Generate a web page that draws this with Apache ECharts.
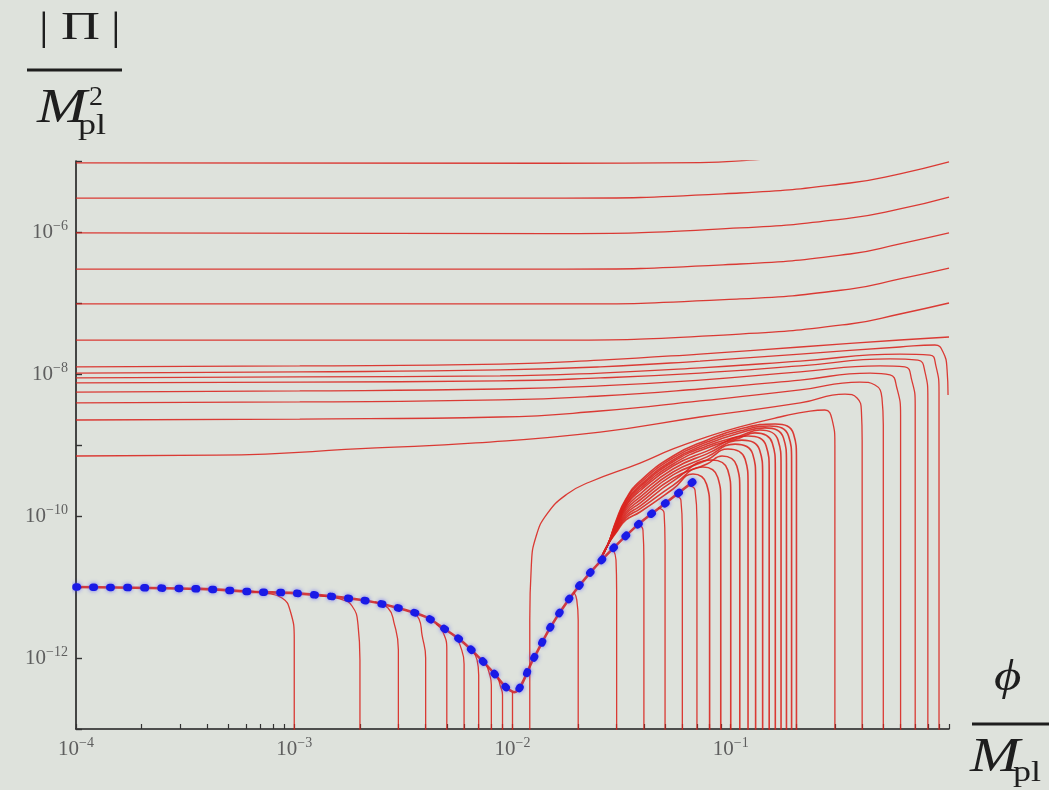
<!DOCTYPE html>
<html>
<head>
<meta charset="utf-8">
<script src="https://cdn.jsdelivr.net/npm/echarts@6.0.0/dist/echarts.min.js"></script>
<style>
html, body { margin: 0; padding: 0; background: #dee2dc; }
#container { width: 1049px; height: 790px; }
</style>
</head>
<body>
<div id="container"></div>
<script>
// tick positions on the phi axis (decades + 2..9)
var xTickValues = [
  1e-4, 2e-4, 3e-4, 4e-4, 5e-4, 6e-4, 7e-4, 8e-4, 9e-4,
  1e-3, 2e-3, 3e-3, 4e-3, 5e-3, 6e-3, 7e-3, 8e-3, 9e-3,
  1e-2, 2e-2, 3e-2, 4e-2, 5e-2, 6e-2, 7e-2, 8e-2, 9e-2,
  0.1, 0.2, 0.3, 0.4, 0.5, 0.6, 0.7, 0.8, 0.9, 1
];

// attractor (blue dotted, red underneath)
var attractor = [
  [1e-4, 1.0e-11], [3.7e-4, 9.4e-12], [6.7e-4, 8.5e-12], [1e-3, 8.2e-12], [2e-3, 6.6e-12],
  [2.9e-3, 5.2e-12], [4e-3, 3.8e-12], [4.95e-3, 2.5e-12], [5.9e-3, 1.7e-12], [7e-3, 1.03e-12],
  [8.15e-3, 6.3e-13], [9.3e-3, 3.9e-13], [1.02e-2, 3.3e-13], [1.24e-2, 9.4e-13], [1.49e-2, 2.7e-12],
  [1.83e-2, 7.0e-12], [2.26e-2, 1.57e-11], [2.89e-2, 3.5e-11], [3.84e-2, 8.0e-11], [5.1e-2, 1.57e-10],
  [6.86e-2, 3.2e-10]
];

// nearly flat lines at the top
var topLines = [
  [[1e-4, 9.4e-6], [1.49e-2, 9.3e-6], [7.23e-2, 9.5e-6], [0.122, 1.03e-5], [0.352, 1.34e-5], [1, 1.98e-5]],
  [[1e-4, 3.0e-6], [1.49e-2, 3.0e-6], [0.110, 3.54e-6], [0.352, 4.9e-6], [0.596, 6.6e-6], [1, 9.7e-6]],
  [[1e-4, 9.7e-7], [1.49e-2, 9.5e-7], [0.110, 1.14e-6], [0.352, 1.57e-6], [0.596, 2.11e-6], [1, 3.11e-6]],
  [[1e-4, 3.0e-7], [1.49e-2, 3.0e-7], [0.110, 3.54e-7], [0.352, 4.9e-7], [0.596, 6.8e-7], [1, 9.7e-7]],
  [[1e-4, 9.7e-8], [1.49e-2, 9.7e-8], [0.110, 1.14e-7], [0.352, 1.57e-7], [0.596, 2.18e-7], [1, 3.11e-7]],
  [[1e-4, 3.0e-8], [1.49e-2, 3.0e-8], [0.110, 3.65e-8], [0.352, 5.06e-8], [0.596, 7.0e-8], [1, 1.0e-7]]
];

// lines that rise and then turn down near phi = 0.3 .. 1
var turnLines = [
  [[1e-4, 1.26e-8], [1.06e-3, 1.30e-8], [8.77e-3, 1.38e-8], [2.52e-2, 1.57e-8], [7.23e-2, 1.91e-8], [0.208, 2.40e-8], [0.596, 3.01e-8], [1, 3.32e-8]],
  [[1e-4, 1.03e-8], [1.06e-3, 1.07e-8], [8.77e-3, 1.14e-8], [2.52e-2, 1.26e-8], [7.23e-2, 1.52e-8], [0.208, 1.91e-8], [0.596, 2.40e-8], [0.862, 2.56e-8], [0.939, 2.04e-8], [0.98, 1.14e-8], [0.99, 5.06e-9]],
  [[1e-4, 8.8e-9], [1.06e-3, 9.1e-9], [8.77e-3, 9.4e-9], [2.52e-2, 1.03e-8], [7.23e-2, 1.22e-8], [0.208, 1.52e-8], [0.596, 1.91e-8], [0.819, 1.85e-8], [0.871, 1.30e-8], [0.9, 5.57e-9], [0.9, 1e-14]],
  [[1e-4, 7.5e-9], [1.06e-3, 7.7e-9], [8.77e-3, 8.0e-9], [2.52e-2, 8.8e-9], [7.23e-2, 1.03e-8], [0.208, 1.30e-8], [0.537, 1.63e-8], [0.721, 1.57e-8], [0.776, 1.07e-8], [0.8, 4.59e-9], [0.8, 1e-14]],
  [[1e-4, 5.57e-9], [1.06e-3, 5.77e-9], [8.77e-3, 6.15e-9], [2.52e-2, 6.8e-9], [7.23e-2, 8.2e-9], [0.208, 1.07e-8], [0.483, 1.30e-8], [0.628, 1.26e-8], [0.675, 8.2e-9], [0.7, 3.66e-9], [0.7, 1e-14]],
  [[1e-4, 3.91e-9], [1.06e-3, 4.04e-9], [8.77e-3, 4.31e-9], [2.52e-2, 4.9e-9], [7.23e-2, 6.15e-9], [0.208, 8.2e-9], [0.435, 1.03e-8], [0.537, 9.7e-9], [0.577, 6.35e-9], [0.6, 2.65e-9], [0.6, 1e-14]],
  [[1e-4, 2.25e-9], [1.06e-3, 2.32e-9], [8.77e-3, 2.48e-9], [2.52e-2, 3.01e-9], [7.23e-2, 4.17e-9], [0.208, 5.96e-9], [0.391, 7.7e-9], [0.458, 7.0e-9], [0.493, 4.59e-9], [0.5, 1.91e-9], [0.5, 1e-14]],
  [[1e-4, 7.0e-10], [4.4e-4, 7.2e-10], [2.37e-3, 9.1e-10], [6.8e-3, 1.07e-9], [2.52e-2, 1.52e-9], [7.23e-2, 2.48e-9], [0.208, 3.91e-9], [0.334, 5.2e-9], [0.379, 4.59e-9], [0.397, 2.92e-9], [0.4, 1.17e-9], [0.4, 1e-14]],
  [[1.2e-2, 1e-14], [1.2e-2, 3.4e-12], [1.22e-2, 2.04e-11], [1.28e-2, 5.06e-11], [1.44e-2, 1.07e-10], [1.78e-2, 2.04e-10], [2.26e-2, 3.01e-10], [3.84e-2, 5.57e-10], [5.44e-2, 8.8e-10], [7.78e-2, 1.30e-9], [0.110, 1.80e-9], [0.168, 2.48e-9], [0.231, 3.01e-9], [0.270, 3.11e-9], [0.291, 2.32e-9], [0.3, 1.0e-9], [0.3, 1e-14]]
];

// fan of curves leaving the attractor, falling at phi = 0.08 .. 0.2
var fanLines = [
  [[2.52e-2, 2.4e-11], [2.74e-2, 4.0e-11], [2.98e-2, 5.8e-11], [3.31e-2, 8.8e-11], [3.84e-2, 1.14e-10], [5.44e-2, 2.4e-10], [6.71e-2, 3.9e-10], [7.75e-2, 2.8e-10], [0.08, 1.26e-10], [0.08, 1e-14]],
  [[2.52e-2, 2.4e-11], [2.74e-2, 4.0e-11], [2.98e-2, 6.0e-11], [3.31e-2, 9.4e-11], [3.84e-2, 1.26e-10], [5.44e-2, 2.7e-10], [7.46e-2, 4.9e-10], [8.72e-2, 3.5e-10], [0.09, 1.57e-10], [0.09, 1e-14]],
  [[2.52e-2, 2.4e-11], [2.74e-2, 4.0e-11], [2.98e-2, 6.15e-11], [3.31e-2, 1.0e-10], [3.84e-2, 1.38e-10], [5.44e-2, 3.1e-10], [8.21e-2, 6.15e-10], [9.69e-2, 4.45e-10], [0.1, 1.98e-10], [0.1, 1e-14]],
  [[2.52e-2, 2.4e-11], [2.74e-2, 4.0e-11], [2.98e-2, 6.35e-11], [3.31e-2, 1.07e-10], [3.84e-2, 1.52e-10], [5.44e-2, 3.4e-10], [7.78e-2, 5.4e-10], [9.12e-2, 7.0e-10], [0.1066, 5.06e-10], [0.11, 2.25e-10], [0.11, 1e-14]],
  [[2.52e-2, 2.4e-11], [2.74e-2, 4.0e-11], [2.98e-2, 6.6e-11], [3.31e-2, 1.14e-10], [3.84e-2, 1.68e-10], [5.44e-2, 3.8e-10], [7.78e-2, 6.15e-10], [9.71e-2, 8.8e-10], [0.1163, 6.35e-10], [0.12, 2.8e-10], [0.12, 1e-14]],
  [[2.52e-2, 2.4e-11], [2.74e-2, 4.0e-11], [2.98e-2, 6.8e-11], [3.31e-2, 1.22e-10], [3.84e-2, 1.85e-10], [5.44e-2, 4.17e-10], [7.78e-2, 6.8e-10], [0.1046, 1.03e-9], [0.126, 7.5e-10], [0.13, 3.3e-10], [0.13, 1e-14]],
  [[2.52e-2, 2.4e-11], [2.74e-2, 4.0e-11], [2.98e-2, 7.0e-11], [3.31e-2, 1.30e-10], [3.84e-2, 2.04e-10], [5.44e-2, 4.6e-10], [7.78e-2, 7.5e-10], [0.1126, 1.17e-9], [0.1356, 8.5e-10], [0.14, 3.8e-10], [0.14, 1e-14]],
  [[2.52e-2, 2.4e-11], [2.74e-2, 4.0e-11], [2.98e-2, 7.2e-11], [3.31e-2, 1.38e-10], [3.84e-2, 2.25e-10], [5.44e-2, 5.06e-10], [7.78e-2, 8.2e-10], [0.12, 1.34e-9], [0.1453, 9.7e-10], [0.15, 4.3e-10], [0.15, 1e-14]],
  [[2.52e-2, 2.4e-11], [2.74e-2, 4.0e-11], [2.98e-2, 7.5e-11], [3.31e-2, 1.43e-10], [3.84e-2, 2.4e-10], [5.44e-2, 5.4e-10], [7.78e-2, 9.1e-10], [0.110, 1.26e-9], [0.129, 1.48e-9], [0.155, 1.07e-9], [0.16, 4.7e-10], [0.16, 1e-14]],
  [[2.52e-2, 2.4e-11], [2.74e-2, 4.0e-11], [2.98e-2, 7.7e-11], [3.31e-2, 1.52e-10], [3.84e-2, 2.56e-10], [5.44e-2, 5.8e-10], [7.78e-2, 9.7e-10], [0.110, 1.34e-9], [0.136, 1.63e-9], [0.1647, 1.17e-9], [0.17, 5.2e-10], [0.17, 1e-14]],
  [[2.52e-2, 2.4e-11], [2.74e-2, 4.0e-11], [2.98e-2, 8.0e-11], [3.31e-2, 1.57e-10], [3.84e-2, 2.7e-10], [5.44e-2, 6.15e-10], [7.78e-2, 1.03e-9], [0.110, 1.48e-9], [0.1435, 1.74e-9], [0.1744, 1.26e-9], [0.18, 5.6e-10], [0.18, 1e-14]],
  [[2.52e-2, 2.4e-11], [2.74e-2, 4.0e-11], [2.98e-2, 8.2e-11], [3.31e-2, 1.68e-10], [3.84e-2, 2.9e-10], [5.44e-2, 6.6e-10], [7.78e-2, 1.10e-9], [0.110, 1.57e-9], [0.151, 1.85e-9], [0.184, 1.34e-9], [0.19, 6.0e-10], [0.19, 1e-14]],
  [[2.52e-2, 2.4e-11], [2.74e-2, 4.0e-11], [2.98e-2, 8.5e-11], [3.31e-2, 1.74e-10], [3.84e-2, 3.1e-10], [5.44e-2, 7.0e-10], [7.78e-2, 1.17e-9], [0.110, 1.68e-9], [0.160, 1.98e-9], [0.194, 1.43e-9], [0.2, 6.3e-10], [0.2, 1e-14]]
];

// short rises that meet the attractor from below (phi = 0.02 .. 0.07)
var riseLines = [
  [[1.91e-2, 8.5e-12], [1.97e-2, 6.6e-12], [2e-2, 3.4e-12], [2e-2, 1e-14]],
  [[2.89e-2, 3.4e-11], [2.98e-2, 2.4e-11], [3e-2, 9.1e-12], [3e-2, 1e-14]],
  [[3.76e-2, 7.7e-11], [3.96e-2, 6.35e-11], [4e-2, 2.4e-11], [4e-2, 1e-14]],
  [[4.64e-2, 1.3e-10], [4.95e-2, 1.1e-10], [5e-2, 3.9e-11], [5e-2, 1e-14]],
  [[5.55e-2, 1.91e-10], [5.91e-2, 1.68e-10], [6e-2, 6.35e-11], [6e-2, 1e-14]],
  [[6.44e-2, 2.65e-10], [6.86e-2, 2.32e-10], [7e-2, 8.8e-11], [7e-2, 1e-14]]
];

// curves peeling off the attractor and dropping (phi = 0.001 .. 0.01)
var dropLines = [
  [[5.64e-4, 8.8e-12], [7.35e-4, 8.2e-12], [8.79e-4, 7.0e-12], [9.56e-4, 4.74e-12], [1e-3, 1.8e-12], [1e-3, 1e-14]],
  [[1.31e-3, 7.5e-12], [1.62e-3, 6.8e-12], [1.84e-3, 5.4e-12], [1.96e-3, 2.92e-12], [2e-3, 9.4e-13], [2e-3, 1e-14]],
  [[2.34e-3, 6.15e-12], [2.69e-3, 5.06e-12], [2.86e-3, 3.21e-12], [3e-3, 1.3e-12], [3e-3, 1e-14]],
  [[3.39e-3, 4.45e-12], [3.73e-3, 3.54e-12], [3.85e-3, 2.11e-12], [4e-3, 1.0e-12], [4e-3, 1e-14]],
  [[4.46e-3, 3.01e-12], [4.80e-3, 2.32e-12], [5e-3, 1.3e-12], [5e-3, 1e-14]],
  [[5.45e-3, 2.04e-12], [5.75e-3, 1.52e-12], [6e-3, 8.2e-13], [6e-3, 1e-14]],
  [[6.52e-3, 1.3e-12], [6.88e-3, 9.4e-13], [7e-3, 5.77e-13], [7e-3, 1e-14]],
  [[7.56e-3, 8.2e-13], [7.8e-3, 6.35e-13], [8e-3, 4.17e-13], [8e-3, 1e-14]],
  [[8.58e-3, 5.4e-13], [8.77e-3, 4.17e-13], [9e-3, 3.01e-13], [9e-3, 1e-14]],
  [[1e-2, 3.3e-13], [1e-2, 1e-14]]
];

var RED = 'rgba(218, 34, 28, 0.88)';
var SERIF = '"Liberation Serif", "DejaVu Serif", serif';

function redLine(data, width, smooth) {
    return {
        type: 'line',
        data: data,
        showSymbol: false,
        smooth: smooth || 0.5,
        silent: true,
        clip: true,
        lineStyle: { color: RED, width: width || 1.3 }
    };
}

function powLabel(v) {
    var e = Math.round(Math.log10(v));
    return '{b|10}{s|\u2212' + (-e) + '}';
}

var labelRich = {
    b: { fontSize: 21, fontFamily: SERIF, color: '#5e5e5e' },
    s: { fontSize: 14, fontFamily: SERIF, color: '#5e5e5e', padding: [0, 0, 12, 0] }
};

var series = [];
[topLines, turnLines, riseLines, dropLines].forEach(function (group) {
    group.forEach(function (d) { series.push(redLine(d)); });
});
// the fan is drawn a bit heavier, it reads as a solid wedge in the picture
fanLines.forEach(function (d) { series.push(redLine(d, 1.6)); });
series.push(redLine(attractor, 2.6, 0.3));
series.push({
    type: 'line',
    data: attractor,
    showSymbol: false,
    smooth: 0.3,
    silent: true,
    z: 5,
    lineStyle: {
        color: '#1a1ae6',
        width: 7.5,
        type: [1.5, 15.5],
        cap: 'round',
        shadowBlur: 4,
        shadowColor: 'rgba(70,70,255,0.7)'
    }
});

var dom = document.getElementById('container');
var myChart = echarts.init(dom, null, { renderer: 'canvas' });
var option = {
    backgroundColor: '#dee2dc',
    animation: false,
    grid: { left: 76, right: 100, top: 161, bottom: 61, containLabel: false },
    xAxis: {
        type: 'log',
        logBase: 10,
        min: 1e-4,
        max: 1,
        axisLine: { show: true, onZero: false, lineStyle: { color: '#1e1e1e', width: 1.6 } },
        axisTick: { show: true, inside: true, length: 5, customValues: xTickValues, lineStyle: { color: '#333', width: 1.2 } },
        axisLabel: {
            margin: 7,
            formatter: function (v) { return v >= 1 ? '' : powLabel(v); },
            rich: labelRich
        },
        splitLine: { show: false }
    },
    yAxis: {
        type: 'log',
        logBase: 10,
        min: 1e-13,
        max: 1e-5,
        axisLine: { show: true, onZero: false, lineStyle: { color: '#1e1e1e', width: 1.6 } },
        axisTick: { show: true, inside: true, length: 6, lineStyle: { color: '#333', width: 1.4 } },
        axisLabel: {
            margin: 8,
            formatter: function (v) {
                var e = Math.round(Math.log10(v));
                return (e % 2 === 0) ? powLabel(v) : '';
            },
            rich: labelRich
        },
        splitLine: { show: false }
    },
    graphic: [
        { type: 'text', x: 39, y: 8, scaleX: 1.2, style: { text: '|', fontSize: 40, fontFamily: SERIF, fill: '#1e1e1e', textVerticalAlign: 'top', verticalAlign: 'top' } },
        { type: 'text', x: 61, y: 8, scaleX: 1.35, style: { text: '\u03A0', fontSize: 40, fontFamily: SERIF, fill: '#1e1e1e', textVerticalAlign: 'top', verticalAlign: 'top' } },
        { type: 'text', x: 111, y: 8, scaleX: 1.2, style: { text: '|', fontSize: 40, fontFamily: SERIF, fill: '#1e1e1e', textVerticalAlign: 'top', verticalAlign: 'top' } },
        { type: 'line', shape: { x1: 27, y1: 70, x2: 122, y2: 70 }, style: { stroke: '#1e1e1e', lineWidth: 3 } },
        { type: 'text', x: 37, y: 85, scaleX: 1.25, style: { text: 'M', fontSize: 48, fontStyle: 'italic', fontFamily: SERIF, fill: '#1e1e1e', textVerticalAlign: 'top', verticalAlign: 'top' } },
        { type: 'text', x: 89, y: 84, style: { text: '2', fontSize: 28, fontFamily: SERIF, fill: '#1e1e1e', textVerticalAlign: 'top', verticalAlign: 'top' } },
        { type: 'text', x: 78, y: 111, scaleX: 1.2, style: { text: 'pl', fontSize: 30, fontFamily: SERIF, fill: '#1e1e1e', textVerticalAlign: 'top', verticalAlign: 'top' } },
        { type: 'text', x: 994, y: 656, scaleX: 1.2, style: { text: '\u03D5', fontSize: 44, fontStyle: 'italic', fontFamily: SERIF, fill: '#1e1e1e', textVerticalAlign: 'top', verticalAlign: 'top' } },
        { type: 'line', shape: { x1: 972, y1: 724, x2: 1049, y2: 724 }, style: { stroke: '#1e1e1e', lineWidth: 3 } },
        { type: 'text', x: 970, y: 734, scaleX: 1.25, style: { text: 'M', fontSize: 48, fontStyle: 'italic', fontFamily: SERIF, fill: '#1e1e1e', textVerticalAlign: 'top', verticalAlign: 'top' } },
        { type: 'text', x: 1013, y: 758, scaleX: 1.2, style: { text: 'pl', fontSize: 30, fontFamily: SERIF, fill: '#1e1e1e', textVerticalAlign: 'top', verticalAlign: 'top' } }
    ],
    series: series
};

myChart.setOption(option, true);
window.onresize = function () {
    myChart.resize();
};
</script>
</body>
</html>
